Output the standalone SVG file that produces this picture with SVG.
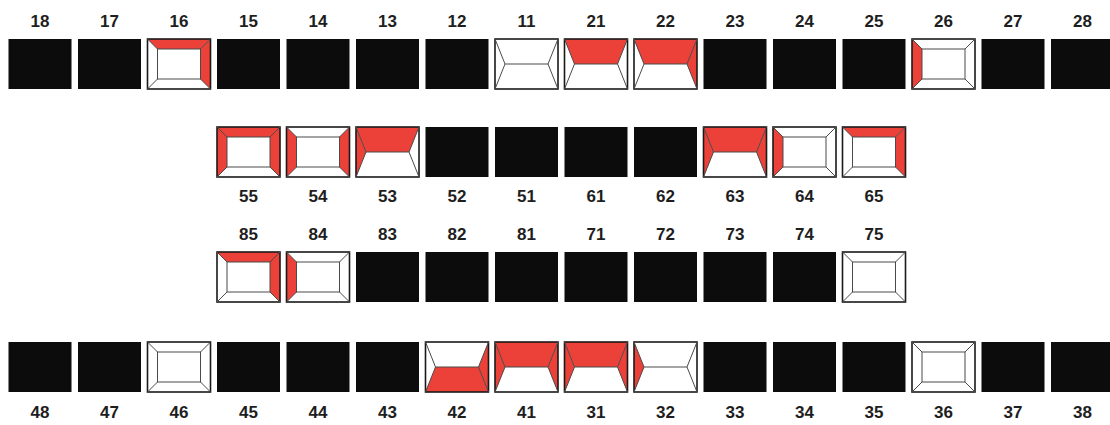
<svg xmlns="http://www.w3.org/2000/svg" xmlns:xlink="http://www.w3.org/1999/xlink" width="1110" height="425" viewBox="0 0 1110 425">
<style>
.bg{fill:#ffffff}
.blk{fill:#0c0c0c}
.w{fill:#ffffff}
.r{fill:#ec4139}
.o{fill:none;stroke:#1a1a1a;stroke-width:1.6}
.l{fill:none;stroke:#4a4a4a;stroke-width:1}
.lab{font-family:"Liberation Sans",Arial,sans-serif;font-weight:bold;font-size:17px;fill:#1e1e1e;text-anchor:middle}
</style>
<defs>
<g id="mo"><rect class="o" x="0" y="0" width="63" height="50"/><rect class="l" x="10" y="10" width="43" height="30"/><path class="l" d="M0 0L10 10M63 0L53 10M0 50L10 40M63 50L53 40"/></g>
<g id="in"><rect class="o" x="0" y="0" width="63" height="50"/><path class="l" d="M10 25H53M0 0L10 25L0 50M63 0L53 25L63 50"/></g>
<polygon id="mT" points="0,0 63,0 53,10 10,10"/>
<polygon id="mB" points="0,50 63,50 53,40 10,40"/>
<polygon id="mL" points="0,0 10,10 10,40 0,50"/>
<polygon id="mR" points="63,0 53,10 53,40 63,50"/>
<polygon id="iT" points="0,0 63,0 53,25 10,25"/>
<polygon id="iB" points="0,50 63,50 53,25 10,25"/>
<polygon id="iL" points="0,0 10,25 0,50"/>
<polygon id="iR" points="63,0 53,25 63,50"/>
<rect id="bk" x="0" y="0" width="63" height="50"/>
<rect id="wh" x="0" y="0" width="63" height="50"/>
</defs>
<rect class="bg" x="0" y="0" width="1110" height="425"/>

<!-- Upper row -->
<g id="t18"><text class="lab" x="40" y="27">18</text><use href="#bk" class="blk" x="8.5" y="39"/></g>
<g id="t17"><text class="lab" x="109.5" y="27">17</text><use href="#bk" class="blk" x="78" y="39"/></g>
<g id="t16"><text class="lab" x="179" y="27">16</text><g transform="translate(147.5,39)"><use href="#wh" class="w"/><use href="#mT" class="r"/><use href="#mR" class="r"/><use href="#mo"/></g></g>
<g id="t15"><text class="lab" x="248.5" y="27">15</text><use href="#bk" class="blk" x="217" y="39"/></g>
<g id="t14"><text class="lab" x="318" y="27">14</text><use href="#bk" class="blk" x="286.5" y="39"/></g>
<g id="t13"><text class="lab" x="387.5" y="27">13</text><use href="#bk" class="blk" x="356" y="39"/></g>
<g id="t12"><text class="lab" x="457" y="27">12</text><use href="#bk" class="blk" x="425.5" y="39"/></g>
<g id="t11"><text class="lab" x="526.5" y="27">11</text><g transform="translate(495,39)"><use href="#wh" class="w"/><use href="#in"/></g></g>
<g id="t21"><text class="lab" x="596" y="27">21</text><g transform="translate(564.5,39)"><use href="#wh" class="w"/><use href="#iT" class="r"/><use href="#in"/></g></g>
<g id="t22"><text class="lab" x="665.5" y="27">22</text><g transform="translate(634,39)"><use href="#wh" class="w"/><use href="#iT" class="r"/><use href="#iR" class="r"/><use href="#in"/></g></g>
<g id="t23"><text class="lab" x="735" y="27">23</text><use href="#bk" class="blk" x="703.5" y="39"/></g>
<g id="t24"><text class="lab" x="804.5" y="27">24</text><use href="#bk" class="blk" x="773" y="39"/></g>
<g id="t25"><text class="lab" x="874" y="27">25</text><use href="#bk" class="blk" x="842.5" y="39"/></g>
<g id="t26"><text class="lab" x="943.5" y="27">26</text><g transform="translate(912,39)"><use href="#wh" class="w"/><use href="#mL" class="r"/><use href="#mo"/></g></g>
<g id="t27"><text class="lab" x="1013" y="27">27</text><use href="#bk" class="blk" x="981.5" y="39"/></g>
<g id="t28"><text class="lab" x="1082.5" y="27">28</text><use href="#bk" class="blk" x="1051" y="39"/></g>

<!-- Upper deciduous row -->
<g id="t55"><g transform="translate(217,127)"><use href="#wh" class="w"/><use href="#mT" class="r"/><use href="#mL" class="r"/><use href="#mR" class="r"/><use href="#mo"/></g><text class="lab" x="248.5" y="202">55</text></g>
<g id="t54"><g transform="translate(286.5,127)"><use href="#wh" class="w"/><use href="#mL" class="r"/><use href="#mR" class="r"/><use href="#mo"/></g><text class="lab" x="318" y="202">54</text></g>
<g id="t53"><g transform="translate(356,127)"><use href="#wh" class="w"/><use href="#iT" class="r"/><use href="#iL" class="r"/><use href="#in"/></g><text class="lab" x="387.5" y="202">53</text></g>
<g id="t52"><use href="#bk" class="blk" x="425.5" y="127"/><text class="lab" x="457" y="202">52</text></g>
<g id="t51"><use href="#bk" class="blk" x="495" y="127"/><text class="lab" x="526.5" y="202">51</text></g>
<g id="t61"><use href="#bk" class="blk" x="564.5" y="127"/><text class="lab" x="596" y="202">61</text></g>
<g id="t62"><use href="#bk" class="blk" x="634" y="127"/><text class="lab" x="665.5" y="202">62</text></g>
<g id="t63"><g transform="translate(703.5,127)"><use href="#wh" class="w"/><use href="#iT" class="r"/><use href="#iL" class="r"/><use href="#iR" class="r"/><use href="#in"/></g><text class="lab" x="735" y="202">63</text></g>
<g id="t64"><g transform="translate(773,127)"><use href="#wh" class="w"/><use href="#mL" class="r"/><use href="#mo"/></g><text class="lab" x="804.5" y="202">64</text></g>
<g id="t65"><g transform="translate(842.5,127)"><use href="#wh" class="w"/><use href="#mT" class="r"/><use href="#mR" class="r"/><use href="#mo"/></g><text class="lab" x="874" y="202">65</text></g>

<!-- Lower deciduous row -->
<g id="t85"><text class="lab" x="248.5" y="240">85</text><g transform="translate(217,252)"><use href="#wh" class="w"/><use href="#mT" class="r"/><use href="#mR" class="r"/><use href="#mo"/></g></g>
<g id="t84"><text class="lab" x="318" y="240">84</text><g transform="translate(286.5,252)"><use href="#wh" class="w"/><use href="#mL" class="r"/><use href="#mo"/></g></g>
<g id="t83"><text class="lab" x="387.5" y="240">83</text><use href="#bk" class="blk" x="356" y="252"/></g>
<g id="t82"><text class="lab" x="457" y="240">82</text><use href="#bk" class="blk" x="425.5" y="252"/></g>
<g id="t81"><text class="lab" x="526.5" y="240">81</text><use href="#bk" class="blk" x="495" y="252"/></g>
<g id="t71"><text class="lab" x="596" y="240">71</text><use href="#bk" class="blk" x="564.5" y="252"/></g>
<g id="t72"><text class="lab" x="665.5" y="240">72</text><use href="#bk" class="blk" x="634" y="252"/></g>
<g id="t73"><text class="lab" x="735" y="240">73</text><use href="#bk" class="blk" x="703.5" y="252"/></g>
<g id="t74"><text class="lab" x="804.5" y="240">74</text><use href="#bk" class="blk" x="773" y="252"/></g>
<g id="t75"><text class="lab" x="874" y="240">75</text><g transform="translate(842.5,252)"><use href="#wh" class="w"/><use href="#mo"/></g></g>

<!-- Lower row -->
<g id="t48"><use href="#bk" class="blk" x="8.5" y="342"/><text class="lab" x="40" y="418">48</text></g>
<g id="t47"><use href="#bk" class="blk" x="78" y="342"/><text class="lab" x="109.5" y="418">47</text></g>
<g id="t46"><g transform="translate(147.5,342)"><use href="#wh" class="w"/><use href="#mo"/></g><text class="lab" x="179" y="418">46</text></g>
<g id="t45"><use href="#bk" class="blk" x="217" y="342"/><text class="lab" x="248.5" y="418">45</text></g>
<g id="t44"><use href="#bk" class="blk" x="286.5" y="342"/><text class="lab" x="318" y="418">44</text></g>
<g id="t43"><use href="#bk" class="blk" x="356" y="342"/><text class="lab" x="387.5" y="418">43</text></g>
<g id="t42"><g transform="translate(425.5,342)"><use href="#wh" class="w"/><use href="#iB" class="r"/><use href="#iR" class="r"/><use href="#in"/></g><text class="lab" x="457" y="418">42</text></g>
<g id="t41"><g transform="translate(495,342)"><use href="#wh" class="w"/><use href="#iT" class="r"/><use href="#iL" class="r"/><use href="#iR" class="r"/><use href="#in"/></g><text class="lab" x="526.5" y="418">41</text></g>
<g id="t31"><g transform="translate(564.5,342)"><use href="#wh" class="w"/><use href="#iT" class="r"/><use href="#iL" class="r"/><use href="#iR" class="r"/><use href="#in"/></g><text class="lab" x="596" y="418">31</text></g>
<g id="t32"><g transform="translate(634,342)"><use href="#wh" class="w"/><use href="#iL" class="r"/><use href="#in"/></g><text class="lab" x="665.5" y="418">32</text></g>
<g id="t33"><use href="#bk" class="blk" x="703.5" y="342"/><text class="lab" x="735" y="418">33</text></g>
<g id="t34"><use href="#bk" class="blk" x="773" y="342"/><text class="lab" x="804.5" y="418">34</text></g>
<g id="t35"><use href="#bk" class="blk" x="842.5" y="342"/><text class="lab" x="874" y="418">35</text></g>
<g id="t36"><g transform="translate(912,342)"><use href="#wh" class="w"/><use href="#mo"/></g><text class="lab" x="943.5" y="418">36</text></g>
<g id="t37"><use href="#bk" class="blk" x="981.5" y="342"/><text class="lab" x="1013" y="418">37</text></g>
<g id="t38"><use href="#bk" class="blk" x="1051" y="342"/><text class="lab" x="1082.5" y="418">38</text></g>
</svg>
